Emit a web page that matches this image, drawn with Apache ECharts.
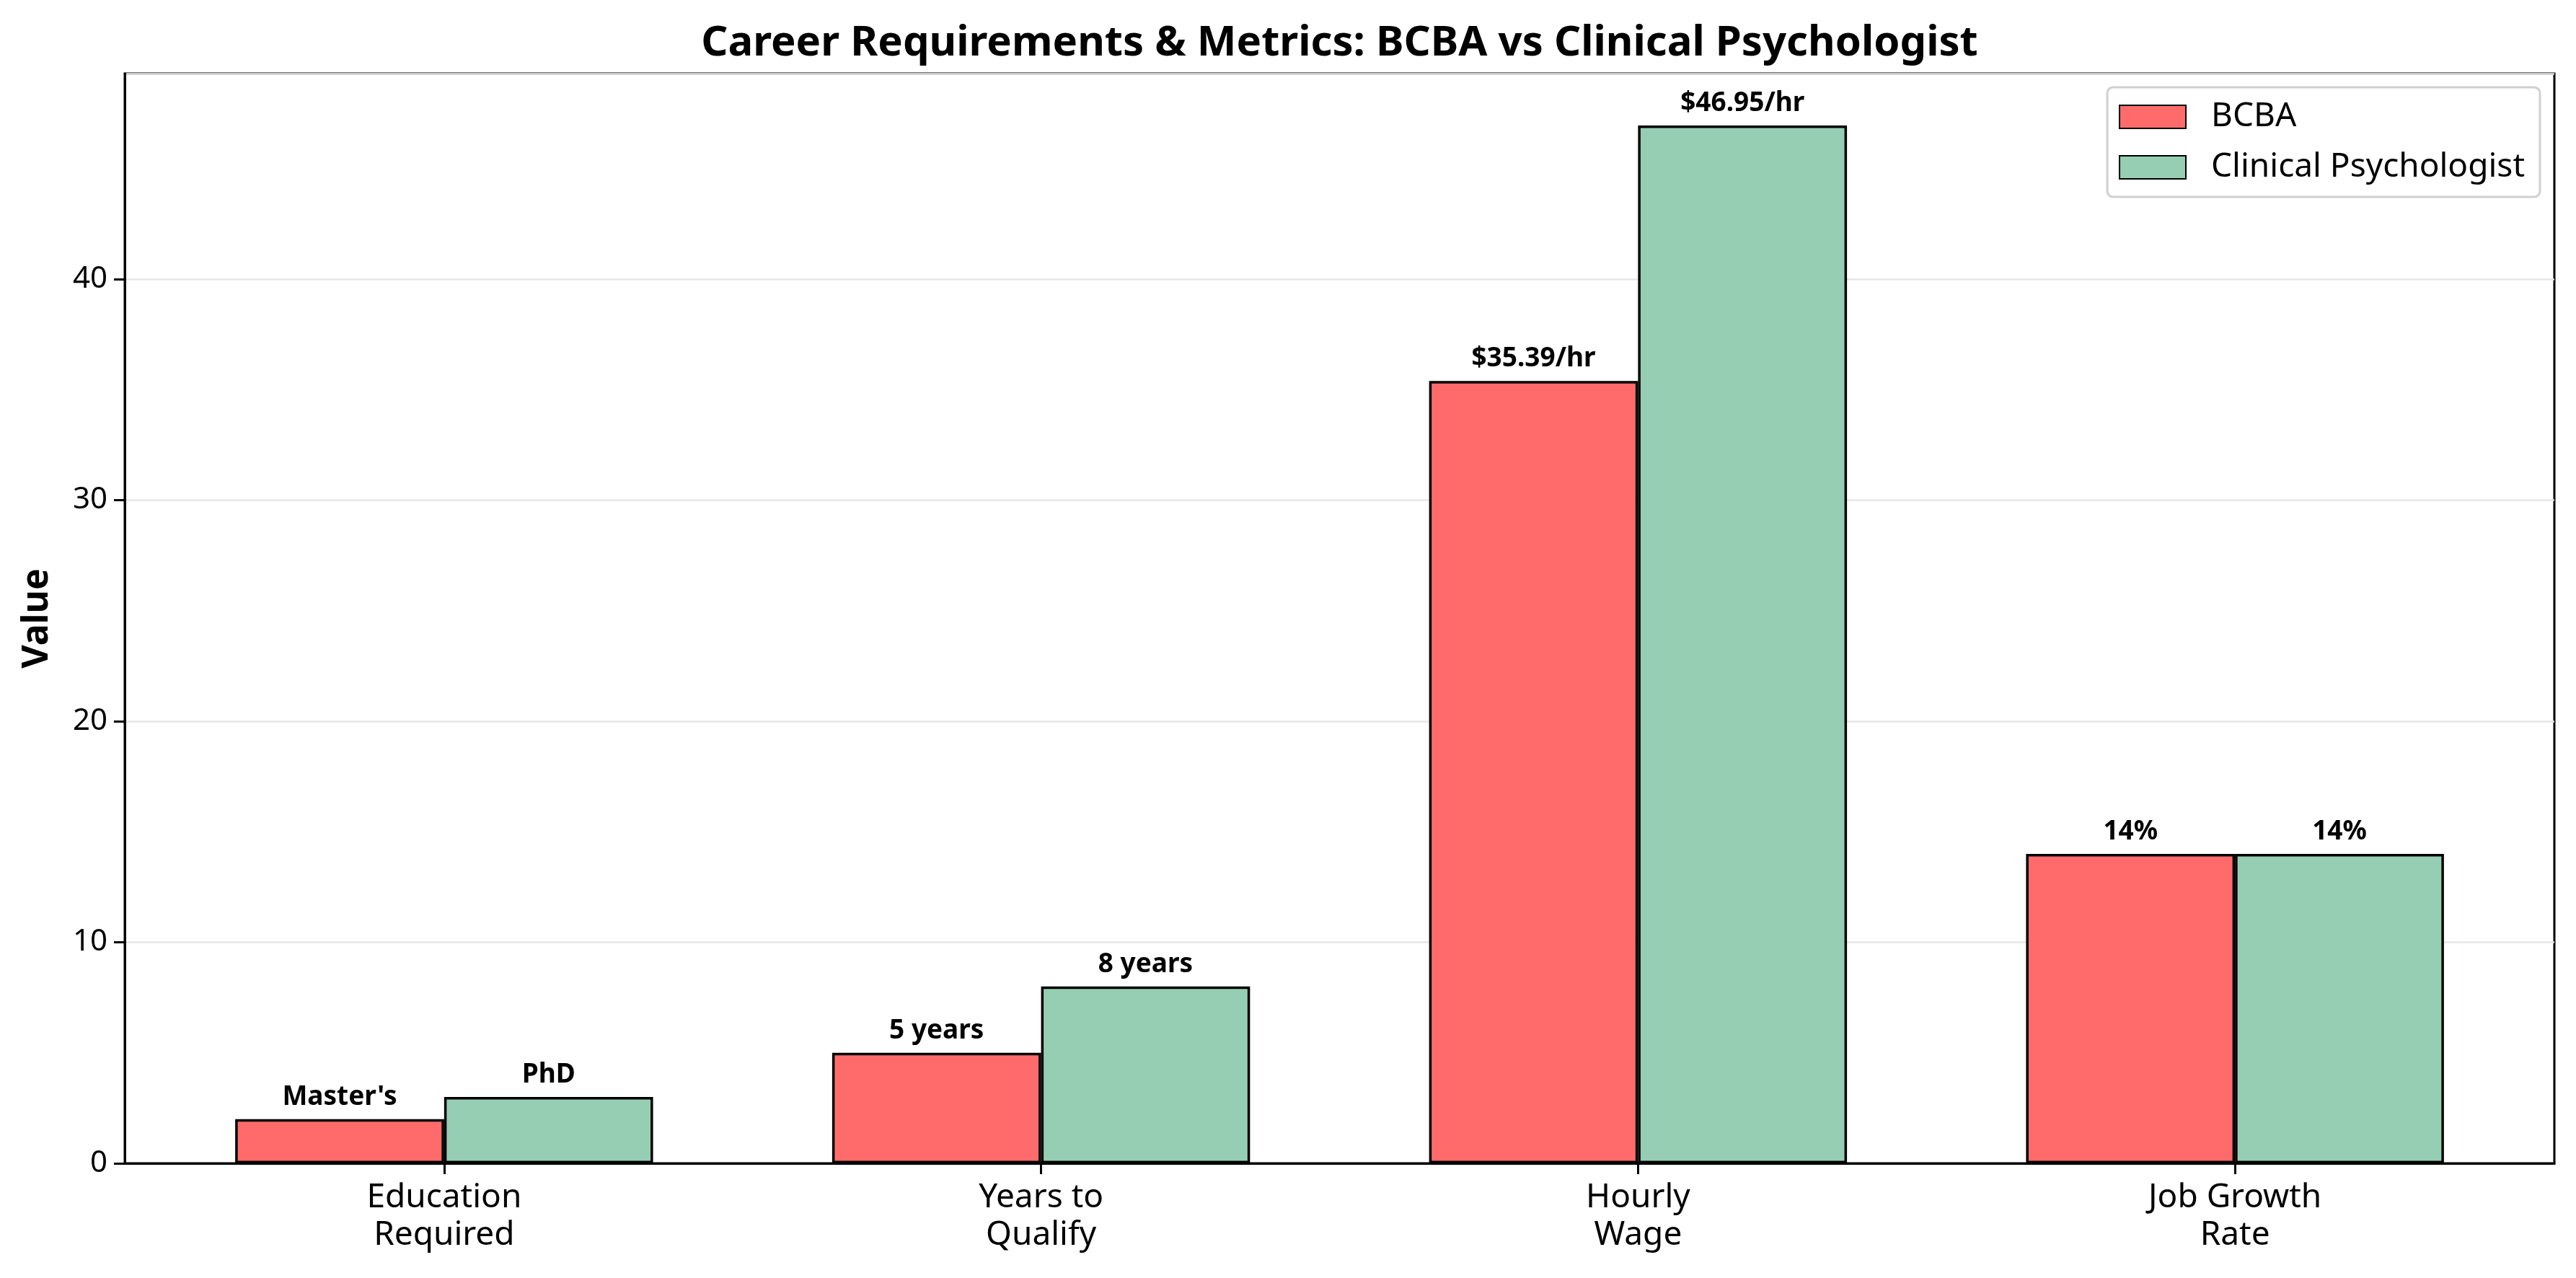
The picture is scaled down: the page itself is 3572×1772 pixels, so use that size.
<!DOCTYPE html>
<html>
<head>
<meta charset="utf-8">
<script src="https://cdn.jsdelivr.net/npm/echarts@6/dist/echarts.min.js"></script>
<style>html,body{margin:0;padding:0;background:#fff;}#c{width:3572px;height:1772px;}</style>
</head>
<body>
<div id="c"></div>
<script>
const categories = ['Education\nRequired', 'Years to\nQualify', 'Hourly\nWage', 'Job Growth\nRate'];
const seriesNames = ['BCBA', 'Clinical Psychologist'];
const bcbaValues = [2, 5, 35.39, 14];
const psychValues = [3, 8, 46.95, 14];
const bcbaLabels = ["Master's", '5 years', '$35.39/hr', '14%'];
const psychLabels = ['PhD', '8 years', '$46.95/hr', '14%'];
const categoryPositions = [0, 1, 2, 3];

const FONT = 'Noto Sans';
const gridLeft = 173, gridRight = 3572 - 3542, gridTop = 102, gridBottom = 1772 - 1613;
const gridWidth = 3572 - gridLeft - gridRight;
const xMin = -0.535, xMax = 3.535;
const barW = gridWidth * 0.35 / (xMax - xMin);
const yMax = Math.max(...psychValues, ...bcbaValues) * 1.05;

const chart = echarts.init(document.getElementById('c'), null, {renderer: 'canvas'});

function barSeries(name, values, labels, color) {
  return {
    name: name,
    type: 'bar',
    data: values.map((v, i) => [categoryPositions[i], v]),
    barWidth: barW,
    barGap: '0%',
    itemStyle: {color: color, borderColor: '#000', borderWidth: 3.5},
    label: {
      show: true,
      position: 'top',
      distance: 12,
      fontFamily: FONT,
      fontWeight: 'bold',
      fontSize: 37,
      color: '#000',
      formatter: p => labels[p.dataIndex]
    },
    emphasis: {disabled: true}
  };
}

chart.setOption({
  animation: false,
  backgroundColor: '#fff',
  title: {
    text: 'Career Requirements & Metrics: BCBA vs Clinical Psychologist',
    left: (gridLeft + 3542) / 2,
    textAlign: 'center',
    top: 31,
    padding: 0,
    textStyle: {fontFamily: FONT, fontWeight: 'bold', fontSize: 58, color: '#000'}
  },
  legend: {
    orient: 'vertical',
    right: 3572 - 3522,
    top: 121,
    padding: [18, 21, 18, 16],
    itemWidth: 92,
    itemHeight: 32,
    itemGap: 24,
    icon: 'rect',
    backgroundColor: 'rgba(255,255,255,0.8)',
    borderColor: '#d0d0d0',
    borderWidth: 3,
    borderRadius: 8,
    textStyle: {fontFamily: FONT, fontSize: 46, color: '#000', padding: [0, 0, 0, 30]},
    data: seriesNames
  },
  grid: {
    left: gridLeft, right: gridRight, top: gridTop, bottom: gridBottom,
    show: true, borderColor: '#000', borderWidth: 3, containLabel: false
  },
  xAxis: {
    type: 'value',
    min: xMin,
    max: xMax,
    splitLine: {show: false},
    axisLine: {show: true, onZero: false, lineStyle: {color: '#000', width: 3}},
    axisTick: {show: true, customValues: categoryPositions, length: 15, lineStyle: {color: '#000', width: 3}},
    axisLabel: {
      show: true,
      customValues: categoryPositions,
      formatter: v => categories[Math.round(v)],
      fontFamily: FONT, fontSize: 46, color: '#000', lineHeight: 52, margin: 22
    }
  },
  yAxis: {
    type: 'value',
    min: 0,
    max: yMax,
    interval: 10,
    name: 'Value',
    nameLocation: 'middle',
    nameRotate: 90,
    nameGap: 96,
    nameTextStyle: {fontFamily: FONT, fontWeight: 'bold', fontSize: 50, color: '#000'},
    axisLine: {show: true, onZero: false, lineStyle: {color: '#000', width: 3}},
    axisTick: {show: true, length: 15, lineStyle: {color: '#000', width: 3}},
    axisLabel: {fontFamily: FONT, fontSize: 42, color: '#000', margin: 24, showMaxLabel: false},
    splitLine: {show: true, lineStyle: {color: '#e6e6e6', width: 2.5}}
  },
  series: [
    barSeries(seriesNames[0], bcbaValues, bcbaLabels, '#FF6B6B'),
    barSeries(seriesNames[1], psychValues, psychLabels, '#96CEB4')
  ]
});
</script>
</body>
</html>
